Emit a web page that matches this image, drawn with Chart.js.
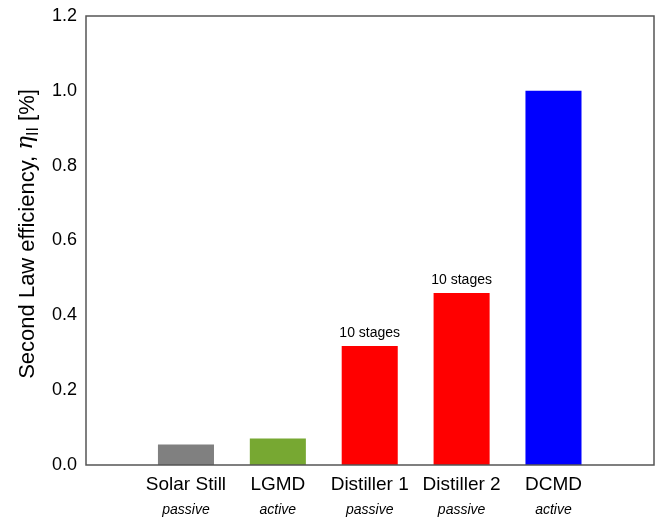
<!DOCTYPE html>
<html>
<head>
<meta charset="utf-8">
<script src="https://cdn.jsdelivr.net/npm/chart.js@4"></script>
<style>
  body { margin: 0; background: #fff; }
  #wrap { width: 657px; height: 519px; }
</style>
</head>
<body>
<div id="wrap"><canvas id="grafico"></canvas></div>
<script>
const categories = ["Solar Still", "LGMD", "Distiller 1", "Distiller 2", "DCMD"];
const modes = ["passive", "active", "passive", "passive", "active"];
const efficiency = [0.055, 0.071, 0.318, 0.46, 1.0];
const notes = ["", "", "10 stages", "10 stages", ""];
const barColors = ["#808080", "#77a832", "#ff0000", "#ff0000", "#0000ff"];
const yTicks = [0, 0.2, 0.4, 0.6, 0.8, 1.0, 1.2];

const FONT = "'Liberation Sans', Arial, sans-serif";

// frame, italic sub labels, bar notes and the y title with subscript
const extras = {
    id: "extras",
    afterDraw(chart) {
        const ctx = chart.ctx;
        const a = chart.chartArea;
        const x = chart.scales.x;
        const y = chart.scales.y;
        ctx.save();

        ctx.strokeStyle = "#555";
        ctx.lineWidth = 1.5;
        ctx.strokeRect(a.left, a.top, a.right - a.left, a.bottom - a.top);

        ctx.fillStyle = "#000";
        ctx.textAlign = "center";
        ctx.textBaseline = "middle";
        ctx.font = "italic 14px " + FONT;
        modes.forEach(function (m, i) {
            ctx.fillText(m, x.getPixelForValue(i + 1), 510);
        });

        ctx.font = "14px " + FONT;
        ctx.textBaseline = "alphabetic";
        notes.forEach(function (n, i) {
            if (n) ctx.fillText(n, x.getPixelForValue(i + 1), y.getPixelForValue(efficiency[i]) - 9);
        });

        // y axis title
        ctx.translate(28, 234);
        ctx.rotate(-Math.PI / 2);
        ctx.textAlign = "left";
        ctx.textBaseline = "middle";
        const p1 = "Second Law efficiency, ";
        const p4 = " [%]";
        const fMain = "22px " + FONT;
        const fEta = "italic 23px 'DejaVu Serif', serif";
        const fSub = "16px " + FONT;
        ctx.font = fMain;
        const w1 = ctx.measureText(p1).width;
        const w4 = ctx.measureText(p4).width;
        ctx.font = fEta;
        const w2 = ctx.measureText("η").width;
        ctx.font = fSub;
        const w3 = ctx.measureText("II").width;
        let cx = -(w1 + w2 + w3 + w4) / 2;
        ctx.font = fMain;
        ctx.fillText(p1, cx, 0);
        cx += w1;
        ctx.font = fEta;
        ctx.fillText("η", cx, -2);
        cx += w2;
        ctx.font = fSub;
        ctx.fillText("II", cx, 6);
        cx += w3;
        ctx.font = fMain;
        ctx.fillText(p4, cx, 0);

        ctx.restore();
    }
};

new Chart(document.getElementById("grafico"), {
    type: "bar",
    data: {
        datasets: [
            {
                data: efficiency.map(function (v, i) { return { x: i + 1, y: v }; }),
                backgroundColor: barColors,
                barPercentage: 0.61,
                categoryPercentage: 1
            }
        ]
    },
    options: {
        responsive: true,
        maintainAspectRatio: false,
        animation: false,
        layout: { padding: { top: 16, right: 3, left: 0, bottom: 0 } },
        plugins: {
            legend: { display: false },
            tooltip: { enabled: false }
        },
        scales: {
            x: {
                type: "linear",
                offset: false,
                min: -0.088,
                max: 6.094,
                grid: { display: false, drawTicks: false, offset: false },
                border: { display: false },
                afterBuildTicks: function (scale) {
                    scale.ticks = categories.map(function (c, i) { return { value: i + 1 }; });
                },
                afterFit: function (scale) {
                    scale.height = 54;
                    scale.paddingLeft = 0;
                    scale.paddingRight = 0;
                },
                ticks: {
                    autoSkip: false,
                    maxRotation: 0,
                    padding: 8,
                    color: "#000",
                    font: { family: FONT, size: 19 },
                    callback: function (v) { return categories[v - 1]; }
                }
            },
            y: {
                min: 0,
                max: 1.2,
                grid: { display: false, drawTicks: false },
                border: { display: false },
                afterBuildTicks: function (scale) {
                    scale.ticks = yTicks.map(function (v) { return { value: v }; });
                },
                afterFit: function (scale) {
                    scale.width = 86;
                    scale.paddingTop = 0;
                    scale.paddingBottom = 0;
                },
                ticks: {
                    padding: 9,
                    color: "#000",
                    font: { family: FONT, size: 18 },
                    callback: function (v) { return v.toFixed(1); }
                }
            }
        }
    },
    plugins: [extras]
});
</script>
</body>
</html>
